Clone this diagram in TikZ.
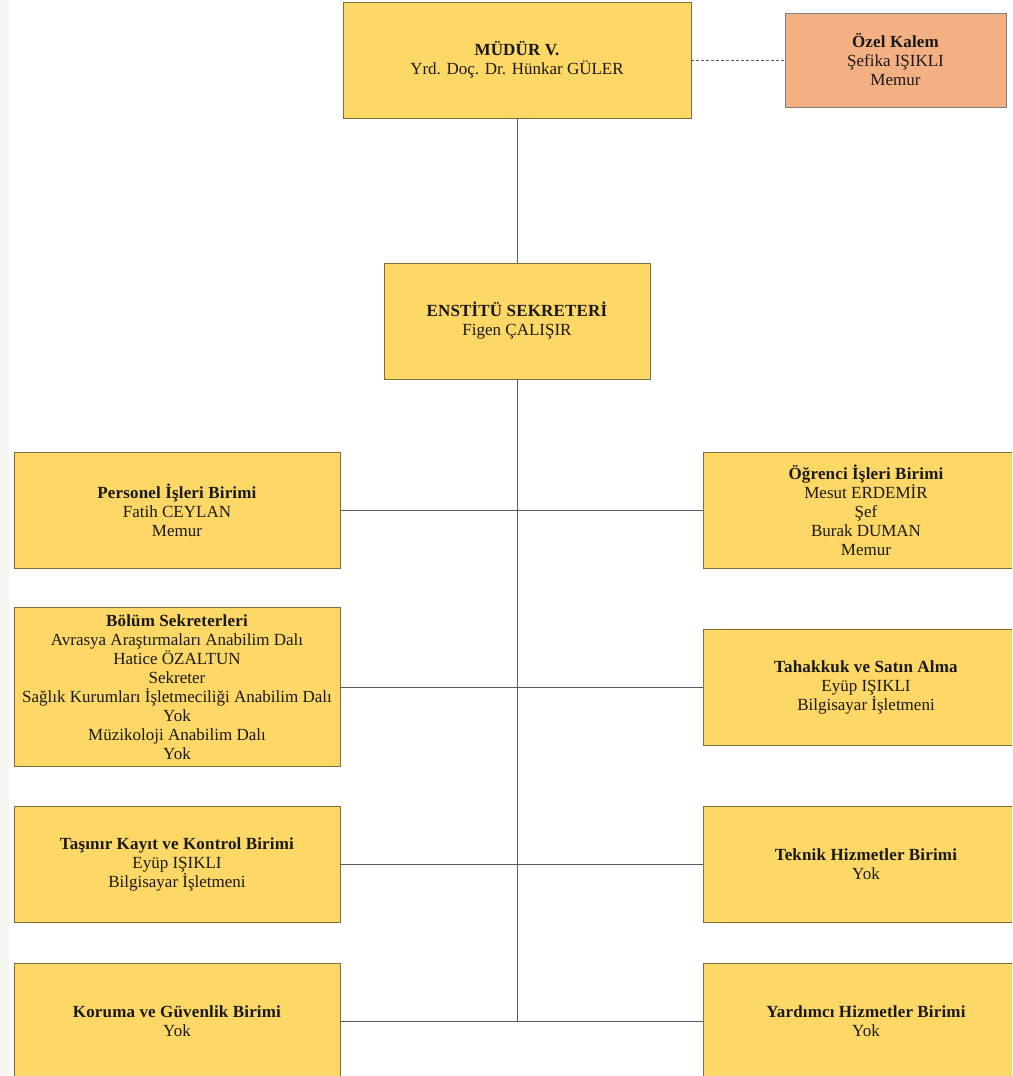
\documentclass[tikz,border=0pt]{standalone}
\usepackage{fontspec}
\setmainfont{Liberation Serif}[BoldFeatures={LetterSpace=1}]
\definecolor{boxfill}{HTML}{FED866}
\definecolor{boxline}{HTML}{7F6E3C}
\definecolor{kalemfill}{HTML}{F3B183}
\definecolor{kalemline}{HTML}{7F7F7F}
\definecolor{conn}{HTML}{5A5A5A}
\definecolor{strip}{HTML}{F3F5EE}
\tikzset{
  unit/.style={draw=boxline, fill=boxfill, line width=0.9pt, align=center, inner sep=0pt,
    font=\fontsize{17}{19}\selectfont, text=black!90},
  wide/.style={unit, minimum width=326pt, minimum height=116pt},
  link/.style={draw=conn, line width=0.8pt},
}
\begin{document}
\begin{tikzpicture}[x=1pt,y=-1pt]
\useasboundingbox (0,0) rectangle (1012,1076);
\clip (0,0) rectangle (1012,1076);
\fill[white] (0,0) rectangle (1012,1076);
\fill[strip] (0,0) rectangle (9,1076);

\node[unit, minimum width=348pt, minimum height=116pt] (mudur) at (517,60)
  {\textbf{MÜDÜR V.}\\Yrd. Doç. Dr. Hünkar GÜLER};
\node[unit, draw=kalemline, fill=kalemfill, minimum width=221pt, minimum height=94pt] (kalem) at (895.5,60)
  {\textbf{Özel Kalem}\\Şefika IŞIKLI\\Memur};
\node[unit, minimum width=266pt, minimum height=116pt] (enst) at (517,321)
  {\textbf{ENSTİTÜ SEKRETERİ}\\Figen ÇALIŞIR};

\node[wide] (pers) at (177,510) {\textbf{Personel İşleri Birimi}\\Fatih CEYLAN\\Memur};
\node[wide] (ogr) at (866,510) {\textbf{Öğrenci İşleri Birimi}\\Mesut ERDEMİR\\Şef\\Burak DUMAN\\Memur};
\node[wide, minimum height=159pt] (bolum) at (177,687) {\textbf{Bölüm Sekreterleri}\\Avrasya Araştırmaları Anabilim Dalı\\Hatice ÖZALTUN\\Sekreter\\Sağlık Kurumları İşletmeciliği Anabilim Dalı\\Yok\\Müzikoloji Anabilim Dalı\\Yok};
\node[wide] (tah) at (866,687) {\textbf{Tahakkuk ve Satın Alma}\\Eyüp IŞIKLI\\Bilgisayar İşletmeni};
\node[wide] (tas) at (177,864) {\textbf{Taşınır Kayıt ve Kontrol Birimi}\\Eyüp IŞIKLI\\Bilgisayar İşletmeni};
\node[wide] (tek) at (866,864) {\textbf{Teknik Hizmetler Birimi}\\Yok};
\node[wide] (kor) at (177,1021) {\textbf{Koruma ve Güvenlik Birimi}\\Yok};
\node[wide] (yar) at (866,1021) {\textbf{Yardımcı Hizmetler Birimi}\\Yok};

\coordinate (spineend) at (517,1021);

\draw[link, dash pattern=on 3pt off 2pt] (mudur.east) -- (kalem.west);
\draw[link] (mudur.south) -- (enst.north);
\draw[link] (enst.south) -- (spineend);
\draw[link] (pers.east) -- (ogr.west);
\draw[link] (bolum.east) -- (tah.west);
\draw[link] (tas.east) -- (tek.west);
\draw[link] (kor.east) -- (yar.west);
\end{tikzpicture}
\end{document}
